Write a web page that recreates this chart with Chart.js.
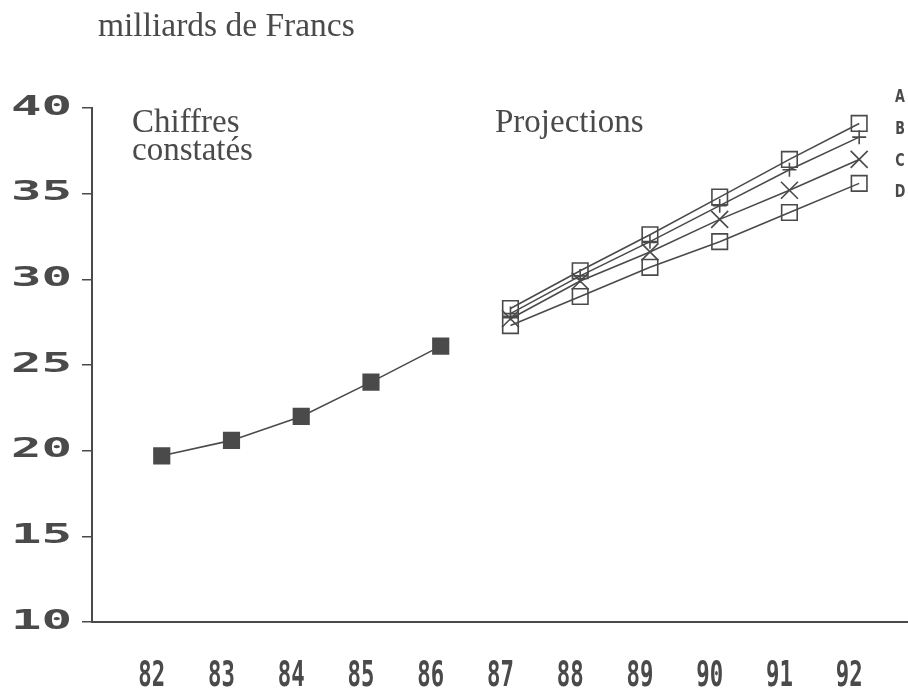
<!DOCTYPE html>
<html>
<head>
<meta charset="utf-8">
<script src="https://cdn.jsdelivr.net/npm/chart.js@4.4.0/dist/chart.umd.min.js"></script>
<style>
html,body{margin:0;padding:0;background:#fff;}
#wrap{width:908px;height:699px;}
</style>
</head>
<body>
<div id="wrap"><canvas id="c" width="908" height="699"></canvas></div>
<script>
const xTickLabels = [82, 83, 84, 85, 86, 87, 88, 89, 90, 91, 92];
const yTickLabels = [10, 15, 20, 25, 30, 35, 40];
const histYears = [82, 83, 84, 85, 86];
const histValues = [19.7, 20.6, 22.0, 24.0, 26.1];
const projYears = [87, 88, 89, 90, 91, 92];
const seriesA = [28.3, 30.5, 32.6, 34.8, 37.0, 39.1];
const seriesB = [28.0, 30.2, 32.2, 34.3, 36.4, 38.3];
const seriesC = [27.7, 29.9, 31.6, 33.5, 35.2, 37.0];
const seriesD = [27.3, 29.0, 30.7, 32.2, 33.9, 35.6];
const seriesNames = ['A', 'B', 'C', 'D'];

const INK = '#4a4a4a';
const pts = (xs, ys) => xs.map((x, i) => ({x: x, y: ys[i]}));

const textPlugin = {
  id: 'texts',
  afterDraw(chart) {
    const ctx = chart.ctx;
    const xs = chart.scales.x, ys = chart.scales.y;
    ctx.save();
    ctx.fillStyle = INK;
    // serif annotations
    ctx.font = '33.5px "Liberation Serif", "Times New Roman", serif';
    ctx.textAlign = 'left';
    ctx.textBaseline = 'alphabetic';
    ctx.fillText('milliards de Francs', 98, 36);
    ctx.font = '33px "Liberation Serif", "Times New Roman", serif';
    ctx.fillText('Chiffres', 132, 132);
    ctx.fillText('constatés', 132, 160);
    ctx.fillText('Projections', 495, 132);
    // y tick labels (wide pixel-style)
    ctx.font = 'bold 26px "DejaVu Sans Mono", monospace';
    ctx.textBaseline = 'middle';
    ctx.textAlign = 'right';
    yTickLabels.forEach(v => {
      const py = ys.getPixelForValue(v);
      ctx.save();
      ctx.translate(72, py);
      ctx.scale(1.95, 1);
      ctx.fillText(String(v), 0, 0);
      ctx.restore();
    });
    // x tick labels (tall condensed)
    ctx.font = 'bold 36px "DejaVu Sans Mono", monospace';
    ctx.textAlign = 'center';
    ctx.textBaseline = 'middle';
    xTickLabels.forEach(v => {
      const px = xs.getPixelForValue(v) - 10;
      ctx.save();
      ctx.translate(px, 677);
      ctx.scale(0.62, 1);
      ctx.fillText(String(v), 0, 0);
      ctx.restore();
    });
    // series letters
    ctx.font = 'bold 17px "DejaVu Sans", sans-serif';
    ctx.textAlign = 'center';
    const letterY = [98, 130, 162, 193];
    seriesNames.forEach((n, i) => {
      ctx.save();
      ctx.translate(900, letterY[i]);
      ctx.scale(0.75, 1);
      ctx.fillText(n, 0, 0);
      ctx.restore();
    });
    ctx.restore();
  }
};

const lineBase = {
  borderColor: INK,
  borderWidth: 1.6,
  pointBorderColor: INK,
  pointBorderWidth: 1.6,
  tension: 0,
  fill: false
};

new Chart(document.getElementById('c'), {
  type: 'line',
  data: {
    datasets: [
      Object.assign({}, lineBase, {label: 'Chiffres constatés', data: pts(histYears, histValues),
        pointStyle: 'rect', pointRadius: 11, pointBackgroundColor: INK}),
      Object.assign({}, lineBase, {label: 'A', data: pts(projYears, seriesA),
        pointStyle: 'rect', pointRadius: 11, pointBackgroundColor: 'rgba(0,0,0,0)'}),
      Object.assign({}, lineBase, {label: 'B', data: pts(projYears, seriesB),
        pointStyle: 'cross', pointRadius: 7, pointBackgroundColor: 'rgba(0,0,0,0)'}),
      Object.assign({}, lineBase, {label: 'C', data: pts(projYears, seriesC),
        pointStyle: 'crossRot', pointRadius: 12, pointBackgroundColor: 'rgba(0,0,0,0)'}),
      Object.assign({}, lineBase, {label: 'D', data: pts(projYears, seriesD),
        pointStyle: 'rect', pointRadius: 11, pointBackgroundColor: 'rgba(0,0,0,0)'})
    ]
  },
  options: {
    responsive: false,
    animation: false,
    devicePixelRatio: 1,
    layout: {autoPadding: false, padding: {top: 108, right: 0, left: 0, bottom: 0}},
    plugins: {legend: {display: false}, tooltip: {enabled: false}},
    scales: {
      x: {
        type: 'linear',
        min: 81,
        max: 92.7,
        afterBuildTicks: s => { s.ticks = xTickLabels.map(v => ({value: v})); },
        afterFit: s => { s.height = 77; },
        ticks: {display: false},
        grid: {display: false},
        border: {display: true, color: INK, width: 2}
      },
      y: {
        min: 10,
        max: 40,
        afterBuildTicks: s => { s.ticks = yTickLabels.map(v => ({value: v})); },
        afterFit: s => { s.width = 92; },
        ticks: {display: false},
        grid: {drawOnChartArea: false, drawTicks: true, tickLength: 10, color: INK, lineWidth: 1.5},
        border: {display: true, color: INK, width: 2}
      }
    }
  },
  plugins: [textPlugin]
});
</script>
</body>
</html>
